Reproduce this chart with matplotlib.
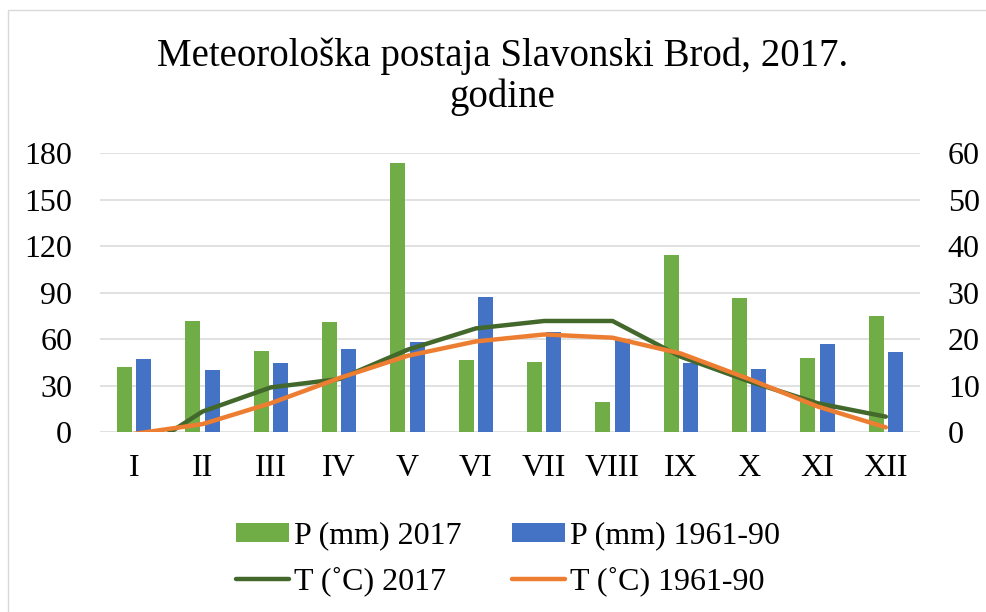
import numpy as np
import matplotlib
matplotlib.use('Agg')
import matplotlib.pyplot as plt
import matplotlib.patches as mpatches

# monthly values
months = ['I', 'II', 'III', 'IV', 'V', 'VI', 'VII', 'VIII', 'IX', 'X', 'XI', 'XII']
p_2017 = [42, 72, 52, 71, 174, 46.5, 45.5, 19.5, 114, 86.5, 48, 75]
p_1961_90 = [47, 40, 44.5, 53.5, 58, 87.5, 64.5, 60, 44.5, 41, 57, 51.5]
t_2017 = [-5.0, 4.4, 9.6, 11.4, 17.7, 22.3, 23.9, 23.9, 16.2, 10.9, 6.2, 3.3]
t_1961_90 = [-0.4, 1.7, 6.2, 11.6, 16.4, 19.5, 21.0, 20.3, 16.9, 11.4, 5.5, 1.0]

plt.rcParams['font.family'] = ['Liberation Serif', 'DejaVu Serif']

W, H = 986, 612
fig = plt.figure(figsize=(W / 100, H / 100), dpi=100)

# axes box in pixel terms from the reference
left, right, top, bottom = 100, 920, 153.3, 432
ax = fig.add_axes([left / W, 1 - bottom / H, (right - left) / W, (bottom - top) / H])
ax2 = ax.twinx()

x = np.arange(len(months))
bw = 0.22
off = 0.142
b1 = ax.bar(x - off, p_2017, bw, color='#70AD47', label='P (mm) 2017', zorder=2)
b2 = ax.bar(x + off, p_1961_90, bw, color='#4472C4', label='P (mm) 1961-90', zorder=2)

l1, = ax2.plot(x, t_2017, color='#43682B', lw=3.2, label='T (˚C) 2017',
               solid_capstyle='round', solid_joinstyle='round')
l2, = ax2.plot(x, t_1961_90, color='#ED7D31', lw=3.2, label='T (˚C) 1961-90',
               solid_capstyle='round', solid_joinstyle='round')

ax.set_xlim(-0.5, 11.5)
ax.set_ylim(0, 180)
ax2.set_ylim(0, 60)
ax.set_yticks(np.arange(0, 181, 30))
ax2.set_yticks(np.arange(0, 61, 10))
ax.set_xticks(x)
ax.set_xticklabels(months)

for a in (ax, ax2):
    for s in a.spines.values():
        s.set_visible(False)
ax.grid(axis='y', color='#D9D9D9', lw=1.1, zorder=0)
ax.set_axisbelow(True)

ax.tick_params(axis='y', length=0, labelsize=23, pad=20)
ax2.tick_params(axis='y', length=0, labelsize=23, pad=20)
ax.tick_params(axis='x', length=0, labelsize=23, pad=16)

# title, two lines placed on their baselines
fig.text(503 / W, 1 - 66 / H, 'Meteorološka postaja Slavonski Brod, 2017.',
         ha='center', va='baseline', fontsize=28)
fig.text(502 / W, 1 - 107 / H, 'godine',
         ha='center', va='baseline', fontsize=28)

# legend, row-wise order like the reference (matplotlib fills by column)
fig.legend([b1, l1, b2, l2],
           ['P (mm) 2017', 'T (˚C) 2017', 'P (mm) 1961-90', 'T (˚C) 1961-90'],
           ncol=2, loc='center', bbox_to_anchor=(508 / W, 1 - 559 / H),
           frameon=False, fontsize=23, handlelength=1.65, handleheight=0.55,
           handletextpad=0.15, columnspacing=1.6, labelspacing=0.5)

# light chart frame
fig.add_artist(mpatches.Rectangle((8 / W, -0.1), 2, 0.1 + (H - 10) / H,
                                  transform=fig.transFigure, fill=False,
                                  edgecolor='#D9D9D9', lw=1.0))

fig.savefig('out.png', dpi=100)
